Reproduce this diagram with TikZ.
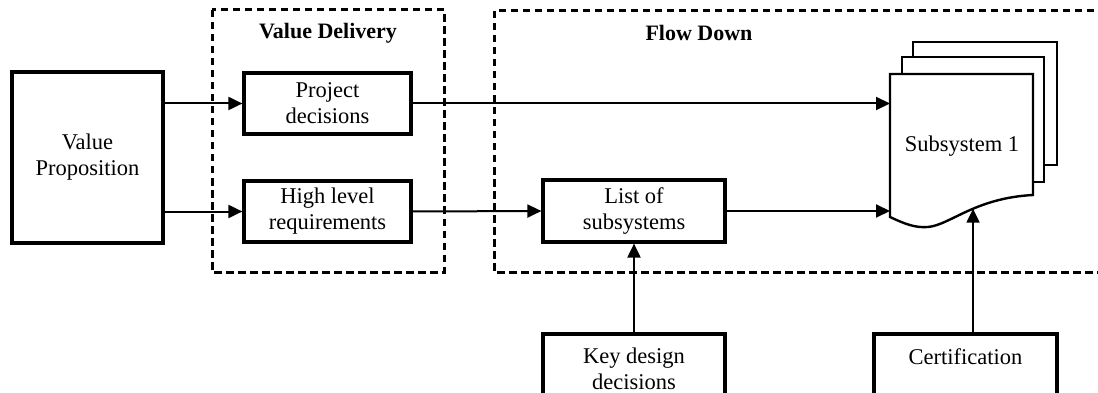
\documentclass[tikz,border=0pt]{standalone}
\usepackage{fontspec}
\setmainfont{Liberation Serif}
\usetikzlibrary{arrows.meta}
\begin{document}
\begin{tikzpicture}[x=1pt,y=-1pt,
 box/.style={draw, line width=3.2pt, rectangle, inner sep=0pt, align=center, font=\fontsize{22.5}{26}\selectfont},
 txt/.style={inner sep=0pt, align=center, font=\fontsize{22.5}{26}\selectfont},
 ttl/.style={inner sep=0pt, font=\fontsize{22}{25}\selectfont\bfseries},
 grp/.style={draw, line width=3pt, dash pattern=on 7.5pt off 4.5pt},
 arr/.style={line width=2pt, -{Triangle[length=14pt,width=13pt]}},
 page/.style={draw, line width=2.4pt, fill=white},
]
\useasboundingbox (0,0) rectangle (1098,393);
\clip (0,0) rectangle (1098,393);

% groups
\draw[grp] (212,10) rectangle (444,272);
\draw[grp] (494,11) rectangle (1115,272);
\node[ttl] (tvd) at (328,33) {Value Delivery};
\node[ttl] (tfd) at (699,33) {Flow Down};

% boxes
\node[box, minimum width=151pt, minimum height=171pt] (vp) at (87.5,157.5) {Value\\Proposition};
\node[box, minimum width=167pt, minimum height=61pt] (pd) at (327.5,103.5) {Project\\decisions};
\node[box, minimum width=167pt, minimum height=61pt] (hlr) at (327.5,211.5) {High level\\requirements};
\node[box, minimum width=182pt, minimum height=62pt] (lst) at (634,211) {List of\\subsystems};
\node[box, minimum width=182pt, minimum height=70pt] (key) at (634,369) {Key design\\decisions};
\node[box, minimum width=183pt, minimum height=70pt] (cert) at (965.5,369) {};
\node[txt] (certtxt) at (965.5,357) {Certification};

% subsystem document stack
\draw[page] (913,42) rectangle (1057,165);
\draw[page] (902,57) rectangle (1044,182);
\draw[page] (890,74) -- (1033,74) -- (1033,195)
  .. controls (975,198) and (950,225) .. coordinate[pos=0.44] (w) (928,227)
  .. controls (915,228) and (905,224) .. (890,217) -- cycle;
\node[txt] (sub) at (962,146) {Subsystem 1};
\coordinate (subw) at (890,146);

% connectors
\draw[arr] (vp.east |- pd.west) -- (pd.west);
\draw[arr] (vp.east |- hlr.west) -- (hlr.west);
\draw[arr] (pd.east) -- (pd.east -| subw);
\draw[arr] (hlr.east) -- (lst.west);
\draw[arr] (lst.east) -- (lst.east -| subw);
\draw[arr] (key.north) -- (lst.south);
\draw[arr] (cert.north -| w) -- (w);
\end{tikzpicture}
\end{document}
